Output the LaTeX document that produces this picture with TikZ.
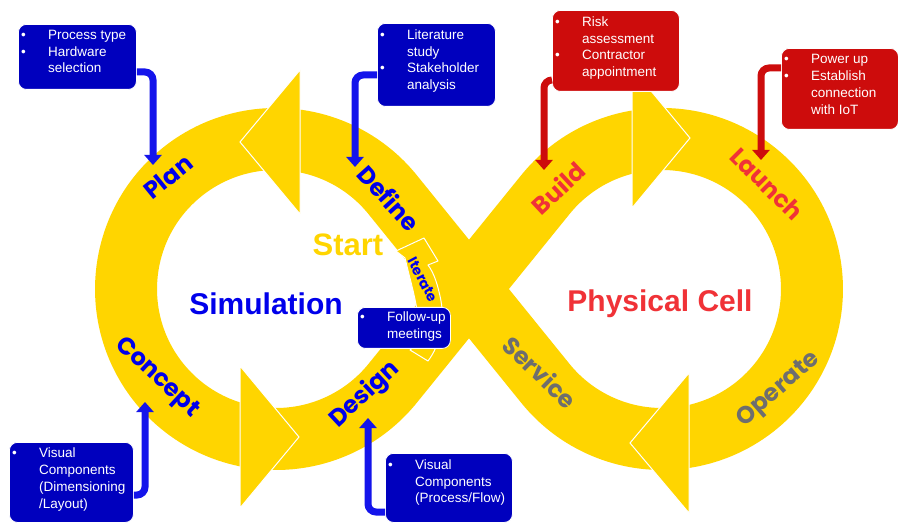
\documentclass[tikz,border=0pt]{standalone}
\usepackage{fontspec}
\setmainfont{Liberation Sans}
\newfontfamily\lblfont{Poppins}
\newfontfamily\ttlfont{Liberation Sans}
\usetikzlibrary{arrows.meta,calc}

\definecolor{loopyellow}{RGB}{255,213,0}
\definecolor{boxblue}{RGB}{0,0,190}
\definecolor{linkblue}{RGB}{20,20,235}
\definecolor{txtblue}{RGB}{0,0,235}
\definecolor{boxred}{RGB}{205,12,12}
\definecolor{txtred}{RGB}{240,50,55}
\definecolor{txtgray}{RGB}{110,110,110}

\newcommand\bu{\makebox[27pt][l]{•}}
\newcommand\nb{\makebox[27pt][l]{}}

\begin{document}
\begin{tikzpicture}[x=1pt,y=1pt,
  band/.style={draw=loopyellow, line width=62pt},
  headtri/.style={fill=loopyellow, draw=white, line width=1pt, line join=miter},
  lbl/.style={font=\lblfont\bfseries\fontsize{24}{24}\selectfont, inner sep=0pt},
  ttl/.style={font=\ttlfont\bfseries\fontsize{30}{30}\selectfont, inner sep=0pt},
  framebox/.style={rounded corners=8pt, draw=white, line width=0.8pt, anchor=north west, inner sep=0pt},
  bbox/.style={framebox, fill=boxblue},
  rbox/.style={framebox, fill=boxred},
  btext/.style={anchor=north west, inner sep=0pt, align=left, text=white,
                font=\fontsize{13.5}{16.7}\selectfont},
  bconn/.style={draw=linkblue, line width=7pt, rounded corners=8pt,
                -{Triangle[length=10pt,width=17pt]}},
  rconn/.style={bconn, draw=boxred}
]
\useasboundingbox (0,0) rectangle (898,523);
\fill[white] (0,0) rectangle (898,523);

% figure-eight loop
\draw[band] (392.6,328.4) arc[start angle=39, end angle=321, radius=150]
  -- (545.4,328.4) arc[start angle=141, end angle=-141, radius=150] -- cycle;

% arrowheads on the loop
\draw[headtri] (300,453) -- (240,381) -- (300,309) -- cycle;
\draw[headtri] (632,455) -- (690,385) -- (632,315) -- cycle;
\draw[headtri] (240,157) -- (299,86) -- (240,15) -- cycle;
\draw[headtri] (689,150) -- (630,80) -- (689,10) -- cycle;

% small iterate arrow
\draw[headtri, line join=round] (424,285) -- (396,272) -- (405,265)
  .. controls (410,243) and (418,218) .. (419,195)
  .. controls (419,185) and (416,178) .. (410,173) -- (428,162)
  .. controls (440,178) and (445,200) .. (441,222)
  .. controls (438,238) and (434,250) .. (428,258) -- (438,262) -- cycle;

% stage labels
\node[lbl, text=txtblue, rotate=39]  (plan)    at (168,346) {Plan};
\node[lbl, text=txtblue, rotate=-48] (define)  at (389,325) {Define};
\node[lbl, text=txtred,  rotate=43]  (build)   at (558,335) {Build};
\node[lbl, text=txtred,  rotate=-45] (launch)  at (767,339) {Launch};
\node[lbl, text=txtblue, rotate=-43] (concept) at (157,145) {Concept};
\node[lbl, text=txtblue, rotate=43]  (design)  at (365,128) {Design};
\node[lbl, text=txtgray, rotate=-44] (service) at (540,151) {Service};
\node[lbl, text=txtgray, rotate=41]  (operate) at (779,133) {Operate};
\node[lbl, text=txtblue, rotate=-62, font=\lblfont\bfseries\fontsize{14}{14}\selectfont] (iterate) at (423,243) {Iterate};

\node[ttl, text=txtblue] (sim)   at (266,219) {Simulation};
\node[ttl, text=txtred]  (phys)  at (660,219) {Physical Cell};
\node[ttl, text=loopyellow, font=\ttlfont\bfseries\fontsize{31}{31}\selectfont] (start) at (348,278) {Start};

% note boxes
\node[bbox, minimum width=118, minimum height=65] (b1) at (18,499) {};
\node[bbox, minimum width=118, minimum height=83] (b2) at (377,500) {};
\node[rbox, minimum width=127, minimum height=81] (b3) at (552,513) {};
\node[rbox, minimum width=117, minimum height=81] (b4) at (781,475) {};
\node[bbox, minimum width=124, minimum height=80] (b5) at (9,81) {};
\node[bbox, minimum width=127, minimum height=69] (b6) at (385,70) {};
\node[bbox, minimum width=93, minimum height=41]  (b7) at (357,216) {};

% connector end points
\coordinate (planpt)    at (153,358);
\coordinate (definept)  at (355,356);
\coordinate (buildpt)   at (544,353);
\coordinate (launchpt)  at (761,363);
\coordinate (conceptpt) at (145,121);
\coordinate (designpt)  at (368,105);

% connectors from the boxes to the stages
\draw[bconn] ($(b1.north east)+(0,-48)$) -| (planpt);
\draw[bconn] ($(b2.north west)+(0,-52)$) -| (definept);
\draw[rconn] ($(b3.north west)+(0,-70)$) -| (buildpt);
\draw[rconn] ($(b4.north west)+(0,-20)$) -| (launchpt);
\draw[bconn] ($(b5.north east)+(0,-53)$) -| (conceptpt);
\draw[bconn] ($(b6.north west)+(0,-59)$) -| (designpt);

% box texts
\node[btext] (t1) at ($(b1.north west)+(3,-6)$) {\bu Process type\\ \bu Hardware\\ \nb selection};
\node[btext] (t2) at ($(b2.north west)+(3,-6.5)$) {\bu Literature\\ \nb study\\ \bu Stakeholder\\ \nb analysis};
\node[btext] (t3) at ($(b3.north west)+(3,-6.5)$) {\bu Risk\\ \nb assessment\\ \bu Contractor\\ \nb appointment};
\node[btext] (t4) at ($(b4.north west)+(3,-6.5)$) {\bu Power up\\ \bu Establish\\ \nb connection\\ \nb with IoT};
\node[btext] (t5) at ($(b5.north west)+(3,-6)$) {\bu Visual\\ \nb Components\\ \nb (Dimensioning\\ \nb /Layout)};
\node[btext] (t6) at ($(b6.north west)+(3,-6.5)$) {\bu Visual\\ \nb Components\\ \nb (Process/Flow)};
\node[btext] (t7) at ($(b7.north west)+(3,-5)$) {\bu Follow-up\\ \nb meetings};
\end{tikzpicture}
\end{document}
